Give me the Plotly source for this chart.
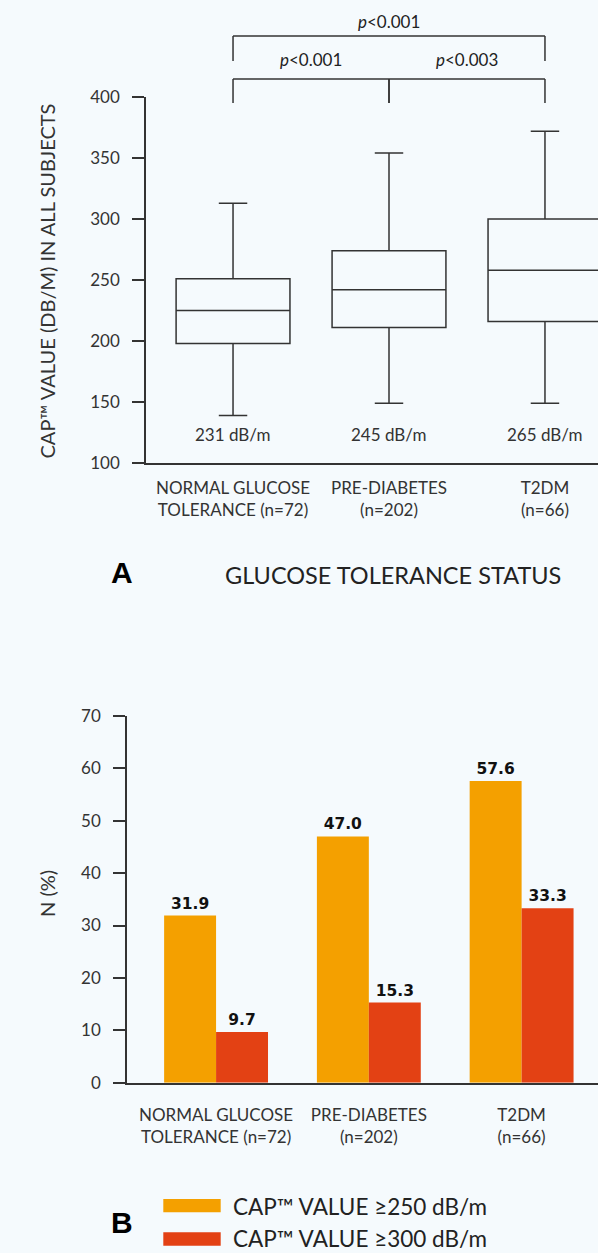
import plotly.graph_objects as go

# ---- data ----
groups = ["NORMAL GLUCOSE<br>TOLERANCE (n=72)", "PRE-DIABETES<br>(n=202)", "T2DM<br>(n=66)"]

# CAP distribution per glucose tolerance group (dB/m)
cap_lower = [139, 149, 149]
cap_q1 = [198, 211, 216]
cap_median = [225, 242, 258]
cap_q3 = [251, 274, 300]
cap_upper = [313, 354, 372]
cap_mean = [231, 245, 265]

# pairwise comparisons: (group a, group b, p label)
comparisons = [(0, 1, "0.001"), (1, 2, "0.003"), (0, 2, "0.001")]

# share of subjects above CAP thresholds (%)
pct_ge_250 = [31.9, 47.0, 57.6]
pct_ge_300 = [9.7, 15.3, 33.3]

# ---- style ----
W, H = 598, 1253
BG = "#F5FAFD"
INK = "#333333"
ORANGE = "#F4A000"
RED = "#E34114"
FONT = "Lato"


def px(x):
    return x / W


def py(y):
    return 1 - y / H


fig = go.Figure()

fig.add_trace(go.Box(
    x=groups, q1=cap_q1, median=cap_median, q3=cap_q3,
    lowerfence=cap_lower, upperfence=cap_upper,
    boxpoints=False, width=0.73, whiskerwidth=0.25,
    fillcolor=BG, line=dict(color=INK, width=1.5),
    xaxis="x", yaxis="y", showlegend=False, hoverinfo="skip",
))

label_font = dict(family="DejaVu Sans", size=15.5, color="#111111", weight="bold")
fig.add_trace(go.Bar(
    x=groups, y=pct_ge_250, name="CAP™ VALUE ≥250 dB/m",
    marker=dict(color=ORANGE, line=dict(width=0)),
    texttemplate="%{y:.1f}", textposition="outside", cliponaxis=False,
    textfont=label_font, xaxis="x2", yaxis="y2", showlegend=False,
))
fig.add_trace(go.Bar(
    x=groups, y=pct_ge_300, name="CAP™ VALUE ≥300 dB/m",
    marker=dict(color=RED, line=dict(width=0)),
    texttemplate="%{y:.1f}", textposition="outside", cliponaxis=False,
    textfont=label_font, xaxis="x2", yaxis="y2", showlegend=False,
))

axis_common = dict(
    showline=True, linecolor=INK, linewidth=1.5, showgrid=False, zeroline=False,
    automargin=False, tickfont=dict(family=FONT, size=17, color=INK),
)

fig.update_layout(
    width=W, height=H,
    margin=dict(l=0, r=0, t=0, b=0, pad=0, autoexpand=False),
    paper_bgcolor=BG, plot_bgcolor=BG,
    font=dict(family=FONT, color=INK),
    barmode="group", bargap=0.32, bargroupgap=0,
    xaxis=dict(domain=[px(146), 1], range=[-0.558, 2.34], anchor="y",
               ticks="", ticklabelstandoff=9, **axis_common),
    yaxis=dict(domain=[py(463), py(97)], range=[100, 400], anchor="x",
               tickvals=[100, 150, 200, 250, 300, 350, 400],
               ticks="outside", ticklen=12, tickwidth=1.5, tickcolor=INK,
               ticklabelstandoff=9, **axis_common),
    xaxis2=dict(domain=[px(127), 1], range=[-0.583, 2.50], anchor="y2",
                ticks="", ticklabelstandoff=16, **axis_common),
    yaxis2=dict(domain=[py(1082.7), py(716)], range=[0, 70], anchor="x2",
                dtick=10, ticks="outside", ticklen=12, tickwidth=1.5, tickcolor=INK,
                ticklabelstandoff=9, **axis_common),
)

# significance brackets above the box plot
shapes = []
line_style = dict(color=INK, width=1.5)
for a, b, _ in comparisons:
    if b - a == 2:
        top, bottom = 36, 61
    else:
        top, bottom = 79, 103
    shapes.append(dict(type="line", xref="x", yref="paper", x0=a, x1=b,
                       y0=py(top), y1=py(top), line=line_style))
    for xv in (a, b):
        shapes.append(dict(type="line", xref="x", yref="paper", x0=xv, x1=xv,
                           y0=py(top), y1=py(bottom), line=line_style))

annotations = []
for a, b, p in comparisons:
    label_y = 21.5 if b - a == 2 else 60
    annotations.append(dict(
        text=f"<i>p</i>&lt;{p}", xref="x", yref="paper", x=(a + b) / 2, y=py(label_y),
        showarrow=False, font=dict(family=FONT, size=17, color="#222222"),
        xanchor="center", yanchor="middle",
    ))

# mean CAP labels under each box
for i, m in enumerate(cap_mean):
    annotations.append(dict(
        text=f"{m} dB/m", xref="x", yref="y", x=i, y=123, showarrow=False,
        font=dict(family=FONT, size=17, color=INK), xanchor="center", yanchor="middle",
    ))

# axis titles and panel letters
annotations += [
    dict(text="CAP™ VALUE (DB/M) IN ALL SUBJECTS", xref="paper", yref="paper",
         x=px(46.5), y=py(281), textangle=-90, showarrow=False,
         font=dict(family=FONT, size=20, color=INK), xanchor="center", yanchor="middle"),
    dict(text="GLUCOSE TOLERANCE STATUS", xref="paper", yref="paper",
         x=px(393), y=py(575), showarrow=False,
         font=dict(family=FONT, size=23.5, color="#222222"), xanchor="center", yanchor="middle"),
    dict(text="<b>A</b>", xref="paper", yref="paper", x=px(121.5), y=py(572.5), showarrow=False,
         font=dict(family="Liberation Sans", size=30, color="#000000"),
         xanchor="center", yanchor="middle"),
    dict(text="N (%)", xref="paper", yref="paper",
         x=px(47), y=py(894), textangle=-90, showarrow=False,
         font=dict(family=FONT, size=20, color=INK), xanchor="center", yanchor="middle"),
    dict(text="<b>B</b>", xref="paper", yref="paper", x=px(122), y=py(1222.5), showarrow=False,
         font=dict(family="Liberation Sans", size=30, color="#000000"),
         xanchor="center", yanchor="middle"),
]

# legend for the threshold bars
legend_items = [(ORANGE, "CAP™ VALUE ≥250 dB/m", 1199, 1212.3, 1206),
                (RED, "CAP™ VALUE ≥300 dB/m", 1232.3, 1245.7, 1238.5)]
for color, label, y0, y1, ty in legend_items:
    shapes.append(dict(type="rect", xref="paper", yref="paper",
                       x0=px(163.3), x1=px(220.7), y0=py(y1), y1=py(y0),
                       fillcolor=color, line=dict(width=0)))
    annotations.append(dict(
        text=label, xref="paper", yref="paper", x=px(232), y=py(ty), showarrow=False,
        font=dict(family=FONT, size=22.5, color="#222222"), xanchor="left", yanchor="middle",
        borderpad=0,
    ))

fig.update_layout(shapes=shapes, annotations=annotations)

fig.write_html("out.html")
